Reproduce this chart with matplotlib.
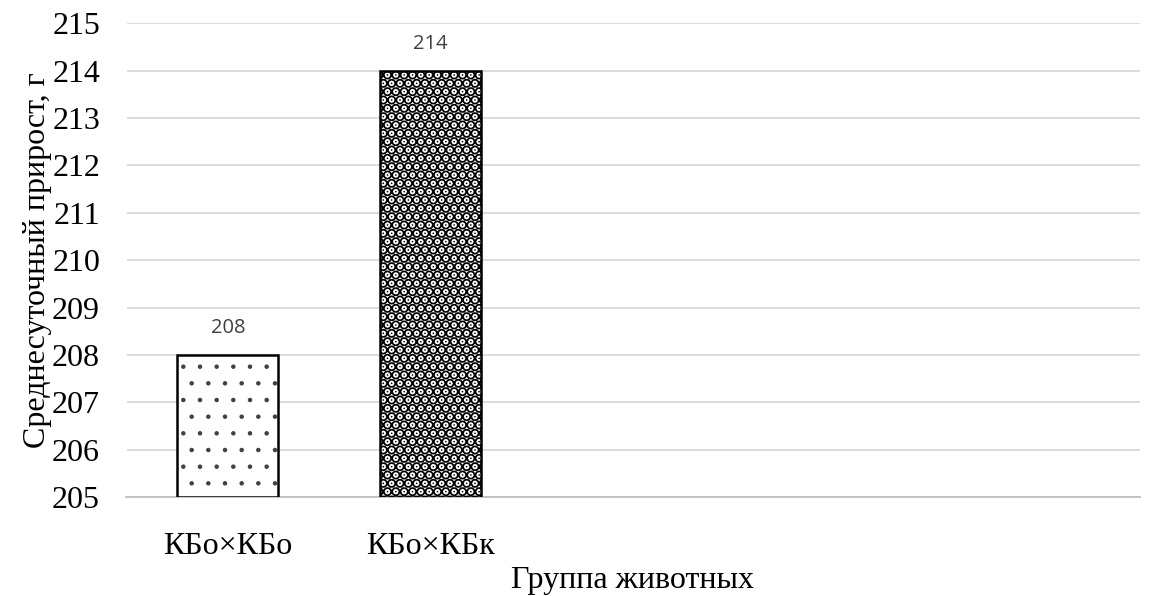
import numpy as np
import matplotlib.pyplot as plt

# chart data
groups = ['КБо×КБо', 'КБо×КБк', '', '', '']
values = [208, 214, np.nan, np.nan, np.nan]
hatches = ['.', '..']
hatch_lw = [0.8, 5.2]
hatch_col = ['#404040', 'black']

plt.rcParams['font.family'] = ['Liberation Serif', 'DejaVu Serif']

fig = plt.figure(figsize=(11.5, 5.96), dpi=100)
ax = fig.add_axes([0.110, 0.166, 0.881, 0.795])

x = np.arange(len(groups))
for i, v in enumerate(values):
    if np.isnan(v):
        continue
    with plt.rc_context({'hatch.linewidth': hatch_lw[i], 'hatch.color': hatch_col[i]}):
        ax.bar(x[i], v - 205, bottom=205, width=0.5, color='white',
               edgecolor=hatch_col[i], linewidth=0, hatch=hatches[i], zorder=3)
    ax.bar(x[i], v - 205, bottom=205, width=0.5, fill=False,
           edgecolor='black', linewidth=1.8, zorder=4)
    ax.text(x[i], v + 0.35, f'{v:.0f}', ha='center', va='bottom',
            fontsize=14.5, color='#404040', family=['Open Sans', 'DejaVu Sans'])

ax.set_xlim(-0.5, len(groups) - 0.5)
ax.set_ylim(205, 215)
ax.set_yticks(range(205, 216))
ax.set_xticks(x[:2])
ax.set_xticklabels(groups[:2])
ax.tick_params(axis='both', length=0, labelsize=23)
ax.tick_params(axis='x', pad=25)
ax.tick_params(axis='y', pad=19)
ax.yaxis.grid(True, color='#d9d9d9', linewidth=1.3, zorder=0)
ax.set_axisbelow(True)
for s in ['top', 'right', 'left']:
    ax.spines[s].set_visible(False)
ax.spines['bottom'].set_color('#bfbfbf')
ax.spines['bottom'].set_linewidth(1.3)

ax.set_ylabel('Среднесуточный прирост, г', fontsize=23, labelpad=0)
fig.text(0.55, 0.026, 'Группа животных', fontsize=23, ha='center', va='center')

fig.savefig('out.png', dpi=100)
